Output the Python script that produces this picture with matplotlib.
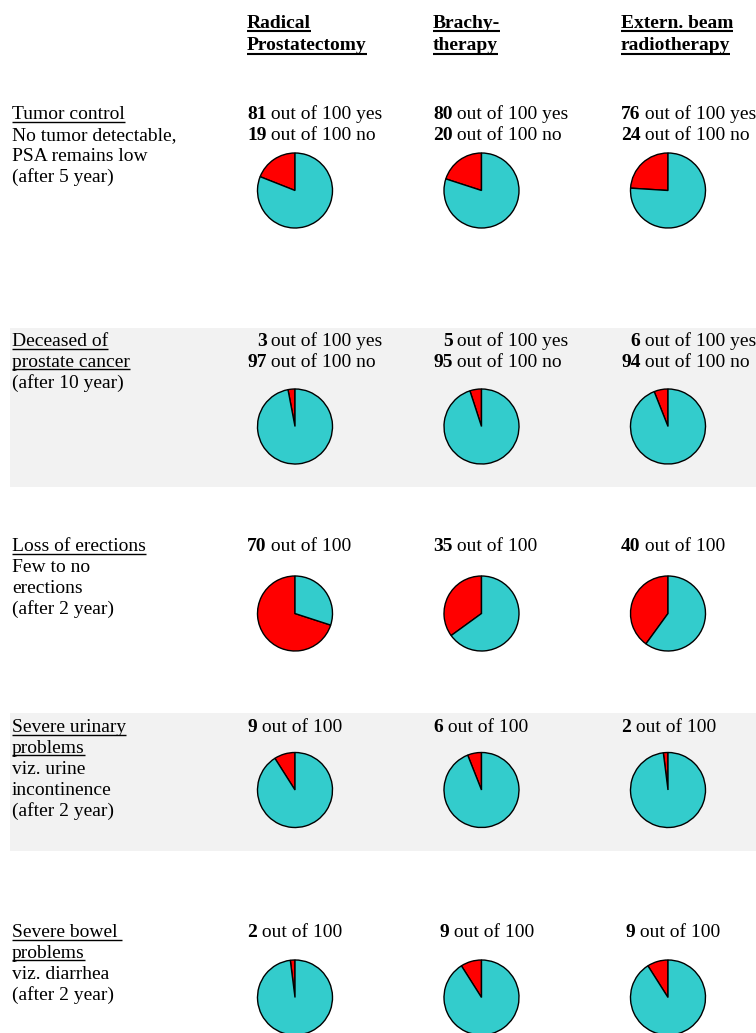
import matplotlib.pyplot as plt

# ---- data ----
treatments = [["Radical", "Prostatectomy"],
              ["Brachy-", "therapy"],
              ["Extern. beam", "radiotherapy"]]
outcome_labels = [
    ["Tumor control", "No tumor detectable,", "PSA remains low", "(after 5 year)"],
    ["Deceased of", "prostate cancer", "(after 10 year)"],
    ["Loss of erections", "Few to no", "erections", "(after 2 year)"],
    ["Severe urinary", "problems", "viz. urine", "incontinence", "(after 2 year)"],
    ["Severe bowel ", "problems", "viz. diarrhea", "(after 2 year)"],
]
n_underlined = [1, 2, 1, 2, 2]
yes_counts = [[81, 80, 76], [3, 5, 6]]      # tumor control, deceased
no_counts = [[19, 20, 24], [97, 95, 94]]
event_counts = [[70, 35, 40], [9, 6, 2], [2, 9, 9]]  # erections, urinary, bowel
# red slice of each pie
red_counts = [no_counts[0], yes_counts[1]] + event_counts

# ---- layout (pixels) ----
W, H = 756, 1033
FS = 14
col_x = [247, 433, 621]
pie_cx = [295, 481.5, 668]
row_base = [119, 346, 551, 732, 937]
pie_cy = [190.5, 426.5, 613.5, 790, 997.5]
last_row_shift = [0, 6, 4]
LH = 20.9
R = 37.5
bands = [(328, 487), (713, 851)]
RED = '#ff0000'
CYAN = '#33cccc'

plt.rcParams['font.family'] = ['Liberation Serif', 'DejaVu Serif']

fig = plt.figure(figsize=(W / 100, H / 100), dpi=100)
ax = fig.add_axes([0, 0, 1, 1])
rend = fig.canvas.get_renderer()


def put(x, y, s, **kw):
    return ax.text(x, H - y, s, va='baseline', fontsize=FS, **kw)


def wid(t):
    return t.get_window_extent(renderer=rend).width


def underline(x, y, w, lw):
    ax.plot([x, x + w], [H - y, H - y], color='black', lw=lw, solid_capstyle='butt')


# grey bands
for y0, y1 in bands:
    ax.fill_between([10, W], H - y1, H - y0, color='#f2f2f2', lw=0, zorder=0)

# headers
for j, lines in enumerate(treatments):
    for k, s in enumerate(lines):
        yb = 27.5 + k * 22.5
        t = put(col_x[j], yb, s, fontweight='bold')
        underline(col_x[j], yb + 3.5, wid(t), 1.5)

# row labels
for i, lines in enumerate(outcome_labels):
    for k, s in enumerate(lines):
        yb = row_base[i] + k * LH
        t = put(12, yb, s)
        if k < n_underlined[i]:
            underline(12, yb + 2.5, wid(t), 1.0)

# counts text
for i in range(5):
    for j in range(3):
        x = col_x[j]
        yb = row_base[i]
        if i < 2:
            pairs = [(yes_counts[i][j], " out of 100 yes"), (no_counts[i][j], " out of 100 no")]
            tmp = put(0, 0, "88", fontweight='bold')
            numw = wid(tmp)
            tmp.remove()
            for k, (n, rest) in enumerate(pairs):
                t = put(x + numw, yb + k * LH, str(n), fontweight='bold', ha='right')
                put(x + numw, yb + k * LH, rest)
        else:
            if i == 4:
                x += last_row_shift[j]
            t = put(x, yb, str(red_counts[i][j]), fontweight='bold')
            put(x + wid(t), yb, " out of 100")

# pies
for i in range(5):
    for j in range(3):
        red = red_counts[i][j]
        ax.pie([red, 100 - red], colors=[RED, CYAN], startangle=90, counterclock=True,
               center=(pie_cx[j], H - pie_cy[i]), radius=R, frame=True,
               wedgeprops=dict(edgecolor='black', linewidth=1.0))

ax.set_xlim(0, W)
ax.set_ylim(0, H)
ax.set_aspect('auto')
ax.axis('off')

fig.savefig('out.png', dpi=100)
